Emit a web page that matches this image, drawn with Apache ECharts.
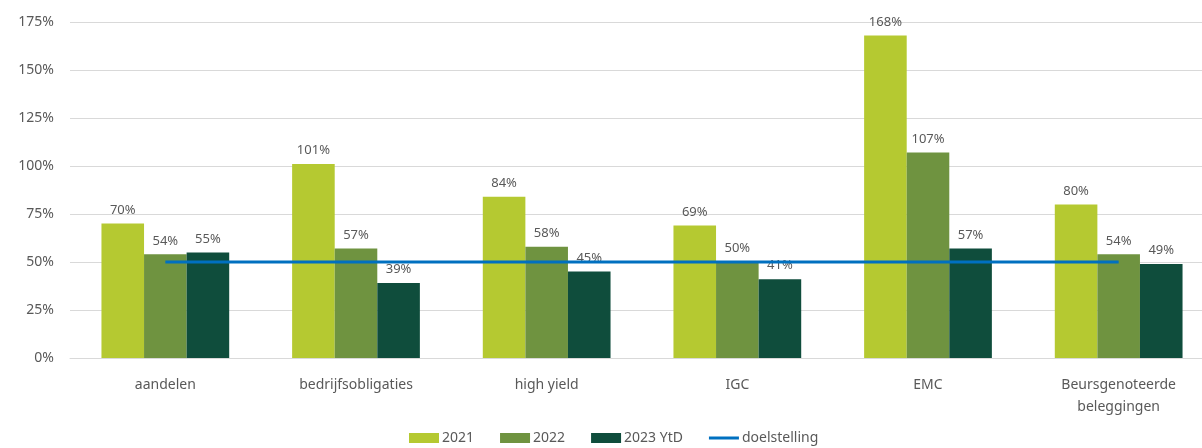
<!DOCTYPE html>
<html>
<head>
<meta charset="utf-8">
<script src="https://cdn.jsdelivr.net/npm/echarts@6/dist/echarts.min.js"></script>
<style>
  html, body { margin: 0; padding: 0; overflow: hidden; background: #fff; }
  #chart { width: 1214px; height: 448px; }
</style>
</head>
<body>
<div id="chart"></div>
<script>
const categories = ['aandelen', 'bedrijfsobligaties', 'high yield', 'IGC', 'EMC', 'Beursgenoteerde\nbeleggingen'];
const y2021 = [70, 101, 84, 69, 168, 80];
const y2022 = [54, 57, 58, 50, 107, 54];
const y2023 = [55, 39, 45, 41, 57, 49];
const target = [50, 50, 50, 50, 50, 50];
const yTicks = [0, 25, 50, 75, 100, 125, 150, 175];

const font = '"Noto Sans", "Open Sans", sans-serif';
const textColor = '#595959';

const barSeries = (name, data, color) => ({
  name,
  type: 'bar',
  data,
  barGap: '0%',
  barCategoryGap: '33%',
  itemStyle: { color },
  label: {
    show: true,
    position: 'top',
    distance: 7,
    formatter: p => p.value + '%',
    color: textColor,
    fontFamily: font,
    fontSize: 13
  }
});

const myChart = echarts.init(document.getElementById('chart'));
myChart.setOption({
  animation: false,
  textStyle: { fontFamily: font },
  grid: { left: 70, right: 0, top: 22, bottom: 90 },
  legend: {
    bottom: -2,
    left: 404,
    itemGap: 26,
    itemWidth: 30,
    itemHeight: 10,
    textStyle: { color: textColor, fontSize: 14, fontFamily: font, padding: [0, 0, 0, -2] },
    data: [
      { name: '2021', icon: 'rect' },
      { name: '2022', icon: 'rect' },
      { name: '2023 YtD', icon: 'rect' },
      { name: 'doelstelling', icon: 'path://M0,0 L30,0 L30,3 L0,3 Z' }
    ]
  },
  xAxis: {
    type: 'category',
    data: categories,
    axisTick: { show: false },
    axisLine: { lineStyle: { color: '#D9D9D9' } },
    axisLabel: { color: textColor, fontSize: 14, margin: 16, lineHeight: 22, fontFamily: font }
  },
  yAxis: {
    type: 'value',
    min: yTicks[0],
    max: yTicks[yTicks.length - 1],
    interval: 25,
    axisLabel: { color: textColor, fontSize: 14, margin: 16, formatter: '{value}%', fontFamily: font },
    splitLine: { lineStyle: { color: '#D9D9D9' } }
  },
  series: [
    barSeries('2021', y2021, '#B5C931'),
    barSeries('2022', y2022, '#6F9340'),
    barSeries('2023 YtD', y2023, '#0F4D3C'),
    {
      name: 'doelstelling',
      type: 'line',
      data: target,
      symbol: 'none',
      lineStyle: { color: '#0070C0', width: 3 },
      itemStyle: { color: '#0070C0' },
      z: 5
    }
  ]
});
</script>
</body>
</html>
